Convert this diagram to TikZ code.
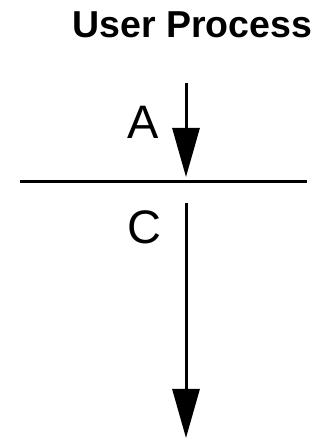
\documentclass[tikz,border=0pt]{standalone}
\usepackage{fontspec}
\setmainfont{Liberation Sans}
\usetikzlibrary{arrows.meta}
\tikzset{
  flow/.style={line width=3pt, -{Triangle[length=49pt,width=27pt]}},
  biglabel/.style={inner sep=0pt, font=\fontsize{47}{50}\selectfont}
}
\begin{document}
\begin{tikzpicture}[x=1pt,y=1pt]
\useasboundingbox (0,0) rectangle (326,439);
% title
\node[inner sep=0pt, font=\fontsize{37.5}{40}\selectfont\bfseries] (title) at (192.5,414.5) {User Process};

% boundary line
\coordinate (lineL) at (20,257);
\coordinate (lineR) at (307,257);
\draw[line width=3pt] (lineL) -- (lineR);

% arrow A, above the line
\coordinate (aTop) at (186,356);
\coordinate (aTip) at (186,262);
\draw[flow] (aTop) -- (aTip);
\node[biglabel] (labA) at (143,317) {A};

% arrow C, below the line
\coordinate (cTop) at (186,236);
\coordinate (cTip) at (186,1);
\draw[flow] (cTop) -- (cTip);
\node[biglabel] (labC) at (144.5,212) {C};
\end{tikzpicture}
\end{document}
